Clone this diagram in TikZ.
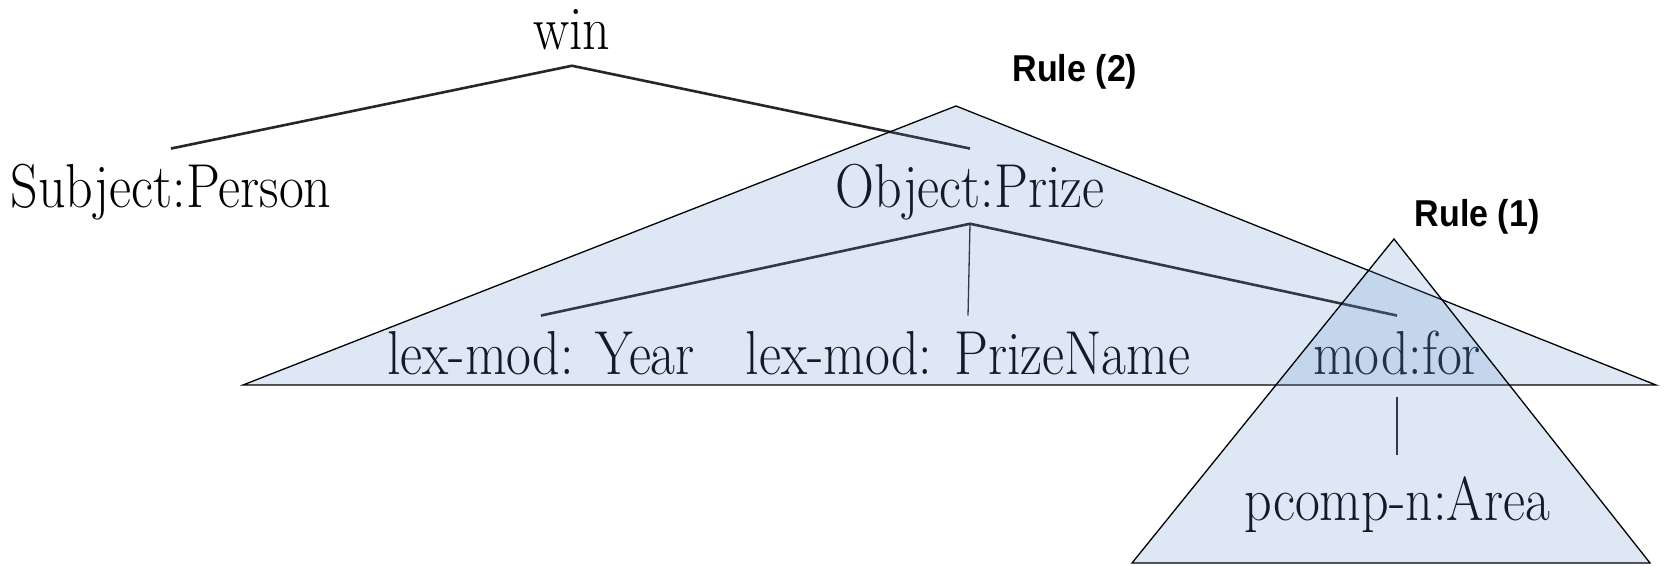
\documentclass[tikz,border=0pt]{standalone}
\usepackage{fontspec}
\newfontfamily\rulefont{Liberation Sans}
\usetikzlibrary{positioning}
\definecolor{rulefill}{RGB}{90,140,200}
\tikzset{
  tn/.style={inner xsep=0pt,inner ysep=13.5pt,text height=38pt,text depth=0pt,anchor=base,
    yscale=1.15,transform shape,font=\fontsize{54}{60}\selectfont},
  edge/.style={line width=2.6pt,black!85},
  thinedge/.style={line width=1.3pt,black!85},
  rulelbl/.style={anchor=base,inner sep=0pt,yscale=1.1,transform shape,
    font=\rulefont\bfseries\fontsize{34}{38}\selectfont},
  tri/.style={draw=black,line width=1.3pt,fill=rulefill,fill opacity=0.2,line join=miter}
}
\begin{document}
\begin{tikzpicture}[x=1pt,y=1pt]
  \useasboundingbox (0,0) rectangle (1675,565);

  % dependency tree
  \node[tn] (win) at (572,515) {win};
  \node[tn] (subj) at (171,357) {Subject:Person};
  \node[tn] (obj) at (970,357) {Object:Prize};
  \node[tn] (year) at (541,190) {lex-mod: Year};
  \node[tn] (pname) at (968,190) {lex-mod: PrizeName};
  \node[tn] (modfor) at (1397,190) {mod:for};
  \node[tn] (area) at (1397,45) {pcomp-n:Area};

  \draw[edge] (win.south) -- (subj.north);
  \draw[edge] (win.south) -- (obj.north);
  \draw[edge] (obj.south) -- (year.north);
  \draw[thinedge] (obj.south) -- (pname.north);
  \draw[edge] (obj.south) -- (modfor.north);
  \draw[thinedge,shorten <=6pt,shorten >=6pt] (modfor.south) -- (area.north);

  % rule triangles
  \draw[tri] (956,459) -- (243,180) -- (1656,180) -- cycle;
  \draw[tri] (1394,326) -- (1132,2) -- (1650,2) -- cycle;

  \node[rulelbl] (r2) at (1075,483) {Rule (2)};
  \node[rulelbl] (r1) at (1477,338) {Rule (1)};
\end{tikzpicture}
\end{document}
